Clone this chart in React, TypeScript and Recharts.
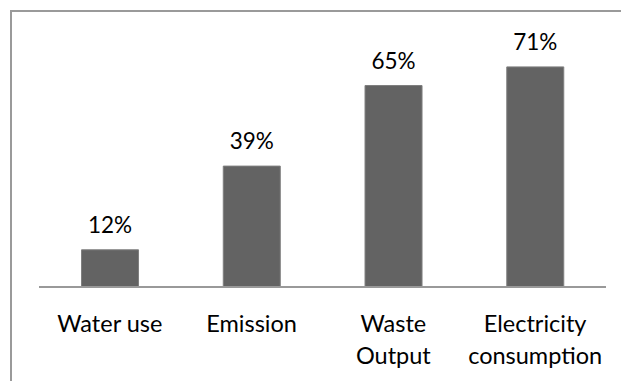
import React from 'react';
import { BarChart, Bar, XAxis, YAxis, LabelList } from 'recharts';

// Share of each resource reduced, in percent
const categories = ['Water use', 'Emission', 'Waste Output', 'Electricity consumption'];
const tickLines = [['Water use'], ['Emission'], ['Waste', 'Output'], ['Electricity', 'consumption']];
const shares = [12, 39, 65, 71];

const data = categories.map((name, i) => ({ name, value: shares[i], lines: tickLines[i] }));

const FONT = 'Lato, "Open Sans", sans-serif';

const CategoryTick = (props: any) => {
  const { x, y, payload } = props;
  const lines = tickLines[payload.index] || [payload.value];
  return (
    <text x={x} y={y} textAnchor="middle" fontFamily={FONT} fontSize={23.5} fill="#000">
      {lines.map((l: string, i: number) => (
        <tspan key={i} x={x} dy={i === 0 ? 37 : 32}>{l}</tspan>
      ))}
    </text>
  );
};

export default function App() {
  return (
    <div style={{ position: 'absolute', left: 0, top: 0, width: 621, height: 381, overflow: 'hidden', background: '#fff' }}>
      <div
        style={{
          position: 'absolute', left: 10, top: 10, width: 660, height: 420,
          borderTop: '2px solid #9a9a9a', borderLeft: '2px solid #9a9a9a',
        }}
      />
      <div style={{ position: 'absolute', left: 0, top: 0 }}>
        <BarChart
          width={621}
          height={381}
          data={data}
          margin={{ top: 39, right: 15, left: 39, bottom: 34 }}
          barCategoryGap="30%"
        >
          <XAxis
            dataKey="name"
            axisLine={{ stroke: '#999', strokeWidth: 2 }}
            tickLine={false}
            tick={<CategoryTick />}
            interval={0}
            height={60}
          />
          <YAxis hide domain={[0, 80]} />
          <Bar dataKey="value" fill="#636363" stroke="#7f7f7f" strokeWidth={1} isAnimationActive={false}>
            <LabelList
              dataKey="value"
              position="top"
              offset={17}
              formatter={(v: any) => `${v}%`}
              style={{ fontFamily: FONT, fontSize: 22.5, fill: '#000' }}
            />
          </Bar>
        </BarChart>
      </div>
    </div>
  );
}
